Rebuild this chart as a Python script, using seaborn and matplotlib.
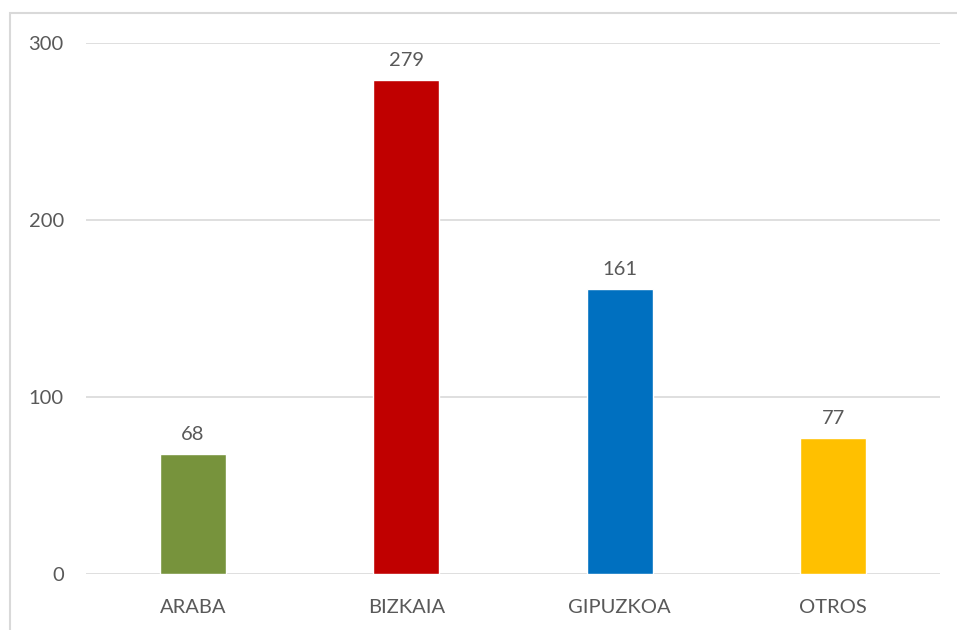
import pandas as pd
import seaborn as sns
import matplotlib.pyplot as plt
from matplotlib.patches import Rectangle

provincias = ["ARABA", "BIZKAIA", "GIPUZKOA", "OTROS"]
valores = [68, 279, 161, 77]
colores = ["#77933C", "#C00000", "#0070C0", "#FFC000"]

df = pd.DataFrame({"provincia": provincias, "valor": valores})

sns.set_style("white")
plt.rcParams["font.family"] = ["Lato", "DejaVu Sans"]

fig = plt.figure(figsize=(9.57, 6.3), dpi=100)
ax = fig.add_axes([86 / 957, 1 - 574 / 630, (940 - 86) / 957, (574 - 43) / 630])

sns.barplot(data=df, x="provincia", y="valor", hue="provincia",
            palette=colores, width=0.31, legend=False, ax=ax, saturation=1)

for c in ax.containers:
    ax.bar_label(c, padding=8, fontsize=14.5, color="#595959")

ax.set_ylim(0, 300)
ax.set_yticks([0, 100, 200, 300])
ax.set_xlim(-0.5, 3.5)
ax.yaxis.grid(True, color="#d9d9d9", linewidth=1.2)
ax.set_axisbelow(True)
for s in ax.spines.values():
    s.set_visible(False)
ax.tick_params(axis="y", length=0, pad=16, labelsize=14.5, labelcolor="#595959")
ax.tick_params(axis="x", length=0, pad=18, labelsize=14.5, labelcolor="#595959")
ax.set_xlabel("")
ax.set_ylabel("")

# borde del gráfico
fig.patches.append(Rectangle((10 / 957, -0.1), 2, 1.1 - 13.5 / 630,
                             transform=fig.transFigure, fill=False,
                             edgecolor="#d9d9d9", linewidth=1.5))

fig.savefig("out.png", dpi=100)
